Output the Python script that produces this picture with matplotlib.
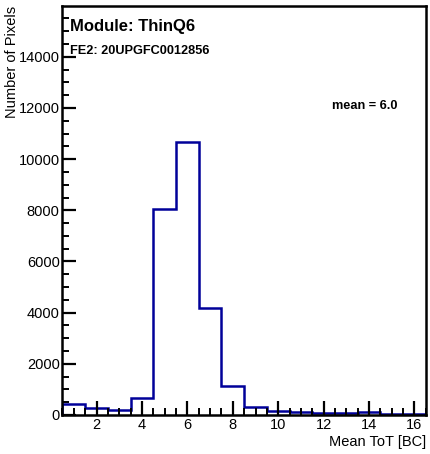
import numpy as np
import matplotlib
matplotlib.use('Agg')
import matplotlib.pyplot as plt
from matplotlib.ticker import MultipleLocator

# Histogram content (bins of width 1, centred on 1..16)
bin_edges = np.arange(0.5, 17.0, 1.0)
counts = [430, 270, 190, 660, 8060, 10660, 4200, 1130,
          300, 140, 100, 90, 60, 110, 25, 20]

plt.rcParams['font.family'] = ['Liberation Sans', 'DejaVu Sans']

fig = plt.figure(figsize=(4.31, 4.54), dpi=100)
ax = fig.add_axes([0.145, 0.086, 0.843, 0.901])

ax.stairs(counts, bin_edges, color='#000099', linewidth=1.8)

ax.set_xlim(0.5, 16.5)
ax.set_ylim(0, 15990)

ax.xaxis.set_major_locator(MultipleLocator(2))
ax.xaxis.set_minor_locator(MultipleLocator(0.5))
ax.yaxis.set_major_locator(MultipleLocator(2000))
ax.yaxis.set_minor_locator(MultipleLocator(500))
ax.tick_params(which='major', direction='in', length=10, width=1.6, labelsize=10.5)
ax.tick_params(which='minor', direction='in', length=5, width=1.4)
ax.tick_params(axis='y', pad=2)
ax.tick_params(axis='x', pad=2)
for s in ax.spines.values():
    s.set_linewidth(1.8)

ax.set_xlabel('Mean ToT [BC]', fontsize=10.5, loc='right', labelpad=2)
ax.set_ylabel('Number of Pixels', fontsize=10.5, loc='top', labelpad=0)

# Labels on the pad
ax.text(0.02, 0.967, 'Module: ThinQ6', transform=ax.transAxes,
        fontsize=12, fontweight='bold', va='top', ha='left')
ax.text(0.02, 0.905, 'FE2: 20UPGFC0012856', transform=ax.transAxes,
        fontsize=9.2, fontweight='bold', va='top', ha='left')
ax.text(0.741, 0.755, 'mean = 6.0', transform=ax.transAxes,
        fontsize=9.2, fontweight='bold', va='center', ha='left')

fig.savefig('out.png', dpi=100)
